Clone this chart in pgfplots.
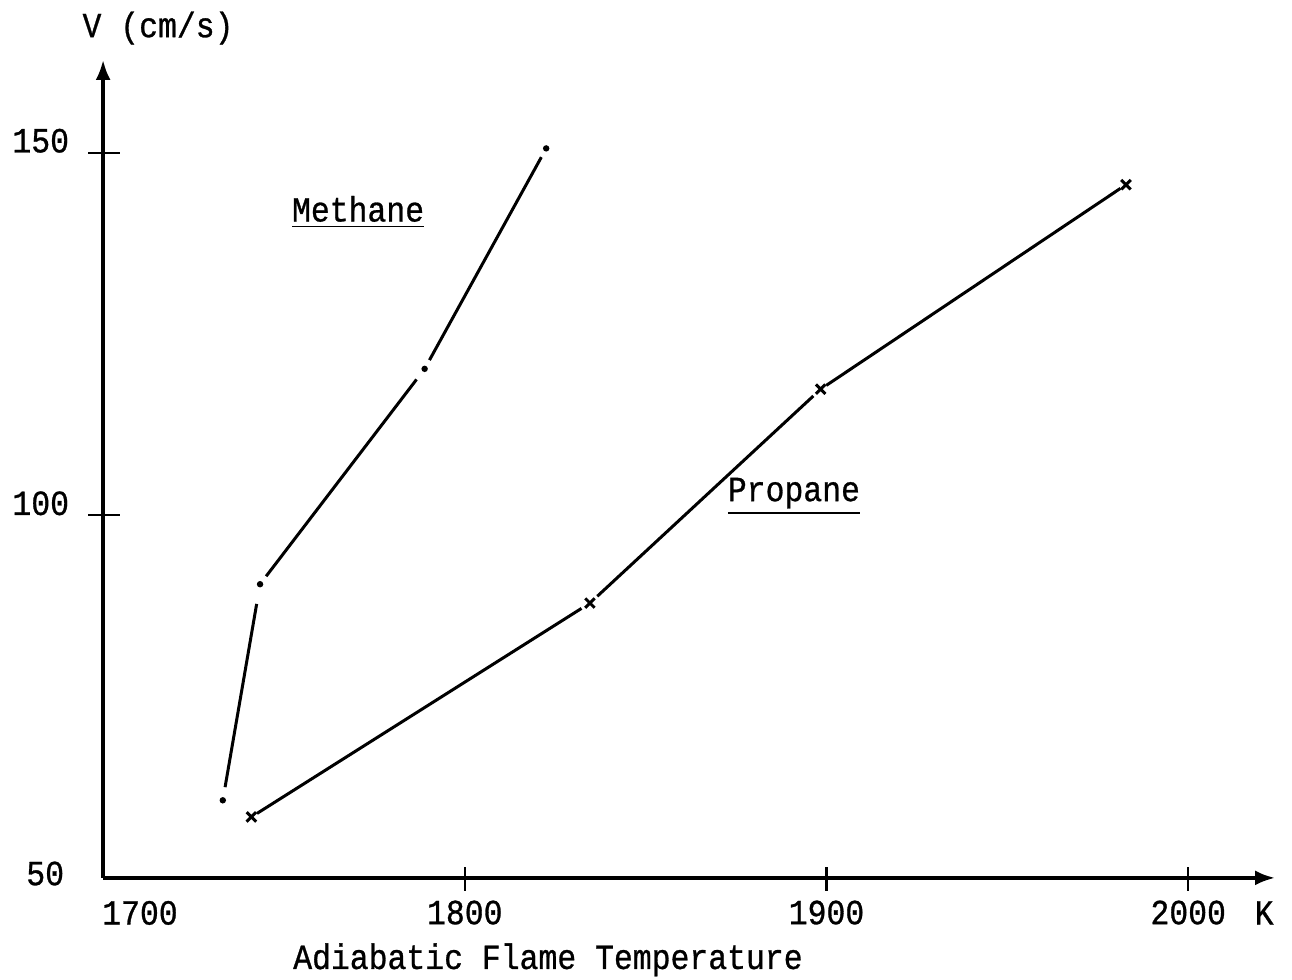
\documentclass[border=0pt]{standalone}
\usepackage{fontspec}
\setmainfont[FakeStretch=0.89,FakeBold=0.8]{Liberation Mono}
\usepackage{pgfplots}
\pgfplotsset{compat=1.18}
\usetikzlibrary{arrows.meta}
\begin{document}
\begin{tikzpicture}[font=\fontsize{10.6}{12}\selectfont]
\begin{axis}[
  scale only axis,
  width=351.6pt, height=245.4pt,
  xmin=1700, xmax=2024, ymin=50, ymax=162.8,
  axis lines=left,
  axis line style={line width=1pt, -{Latex[length=6pt,width=4.5pt]}},
  clip=false,
  major tick length=0pt,
  xtick={1800,1900,2000},
  ytick={100,150},
  /pgf/number format/assume math mode=true,
  /pgf/number format/1000 sep={},
  xticklabel style={anchor=center, yshift=-10.4pt},
  yticklabel style={anchor=center, xshift=-18.7pt, yshift=3.6pt},
]
% Methane segments
\addplot[line width=0.9pt, shorten <=4pt, shorten >=6pt] coordinates {(1733.1,60.7) (1743.4,90.5)};
\addplot[line width=0.9pt, shorten <=3pt, shorten >=4pt] coordinates {(1743.4,90.5) (1788.9,120.2)};
\addplot[line width=0.9pt, shorten <=3pt, shorten >=3pt] coordinates {(1788.9,120.2) (1822.5,150.6)};
\addplot[only marks, mark=*, mark size=0.75pt] coordinates {(1733.1,60.7) (1743.4,90.5) (1788.9,120.2) (1822.5,150.6)};
% Propane segments
\addplot[line width=0.9pt, shorten <=2pt, shorten >=3pt] coordinates {(1741.0,58.4) (1834.6,87.9)};
\addplot[line width=0.9pt, shorten <=3pt, shorten >=3pt] coordinates {(1834.6,87.9) (1898.4,117.4)};
\addplot[line width=0.9pt, shorten <=2pt, shorten >=2pt] coordinates {(1898.4,117.4) (1982.8,145.6)};
\addplot[only marks, mark=x, mark size=2pt, mark options={line width=0.9pt}] coordinates {(1741.0,58.4) (1834.6,87.9) (1898.4,117.4) (1982.8,145.6)};
% tick marks crossing the axes
\draw[line width=0.7pt] ([yshift=-3.9pt]axis cs:1800,50) -- ([yshift=3.2pt]axis cs:1800,50);
\draw[line width=0.7pt] ([yshift=-3.9pt]axis cs:1900,50) -- ([yshift=3.2pt]axis cs:1900,50);
\draw[line width=0.7pt] ([yshift=-3.9pt]axis cs:2000,50) -- ([yshift=3.2pt]axis cs:2000,50);
\draw[line width=0.7pt] ([xshift=-4.5pt]axis cs:1700,100) -- ([xshift=5pt]axis cs:1700,100);
\draw[line width=0.7pt] ([xshift=-4.5pt]axis cs:1700,150) -- ([xshift=5pt]axis cs:1700,150);
% labels
\node at (axis cs:1770.5,141.8) {\underline{Methane}};
\node at (axis cs:1891.0,102.6) {\underline{Propane}};
\node at (axis cs:1710.2,45.17) {1700};
\node at (axis cs:2021,45.17) {K};
\node at (axis cs:1684.0,50.6) {50};
\node at (axis cs:1823.0,38.7) {Adiabatic Flame Temperature};
\node at (axis cs:1715.2,167.2) {V (cm/s)};
\coordinate (bl) at (axis cs:1671.5,35.93);
\coordinate (tr) at (axis cs:2028.7,171.07);
\end{axis}
\pgfresetboundingbox
\path[use as bounding box] (bl) rectangle (tr);
\end{tikzpicture}
\end{document}
